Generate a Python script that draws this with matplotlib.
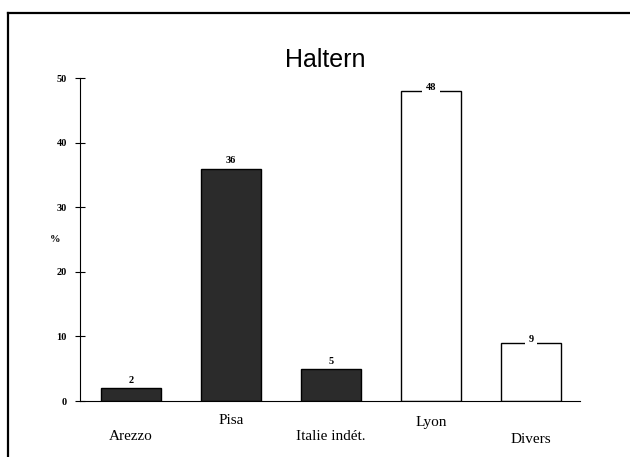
import matplotlib
matplotlib.use('Agg')
import matplotlib.pyplot as plt
from matplotlib.lines import Line2D

categories = ["Arezzo", "Pisa", "Italie indét.", "Lyon", "Divers"]
values = [2, 36, 5, 48, 9]
filled = [True, True, True, False, False]
yticks = [0, 10, 20, 30, 40, 50]

fig = plt.figure(figsize=(6.3, 4.57), dpi=100)
ax = fig.add_axes([0.127, 0.1225, 0.794, 0.7065])

# scanned frame around the chart
fig.add_artist(Line2D([0.013, 1.0], [0.9716, 0.9716], transform=fig.transFigure, color='black', lw=1.6))
fig.add_artist(Line2D([0.013, 0.013], [0.0, 0.9716], transform=fig.transFigure, color='black', lw=1.6))

for i, (v, f) in enumerate(zip(values, filled)):
	ax.bar(i, v, width=0.6, color='#2b2b2b' if f else 'white', edgecolor='black', linewidth=1.0)
	if f:
		ax.text(i, v + 0.5, str(v), ha='center', va='bottom', fontsize=7.5, fontweight='bold', family='Liberation Serif')
	else:
		ax.text(i, v + 0.6, str(v), ha='center', va='center', fontsize=7.5, fontweight='bold', family='Liberation Serif',
			bbox=dict(facecolor='white', edgecolor='none', pad=2.5))

ax.set_xlim(-0.51, 4.49)
ax.set_ylim(0, 50)
ax.set_yticks(yticks)
ax.set_yticklabels([str(t) for t in yticks], fontsize=7.5, fontweight='bold', family='Liberation Serif')
ax.tick_params(axis='y', direction='inout', length=7, width=0.8, pad=6)
ax.set_xticks([])
ax.spines['top'].set_visible(False)
ax.spines['right'].set_visible(False)

# category labels (staggered as in the scan)
label_offsets = [-0.11, -0.06, -0.11, -0.065, -0.12]
for i, (c, off) in enumerate(zip(categories, label_offsets)):
	ax.text(i, off, c, transform=ax.get_xaxis_transform(), ha='center', va='center', fontsize=11, family='Liberation Serif')

ax.text(-0.05, 0.5, "%", transform=ax.transAxes, ha='center', va='center',
	fontsize=7.5, fontweight='bold', family='Liberation Serif')

fig.text(0.516, 0.869, "Haltern", ha='center', va='center', fontsize=18, family='Liberation Sans')

plt.savefig('out.png', dpi=100)
